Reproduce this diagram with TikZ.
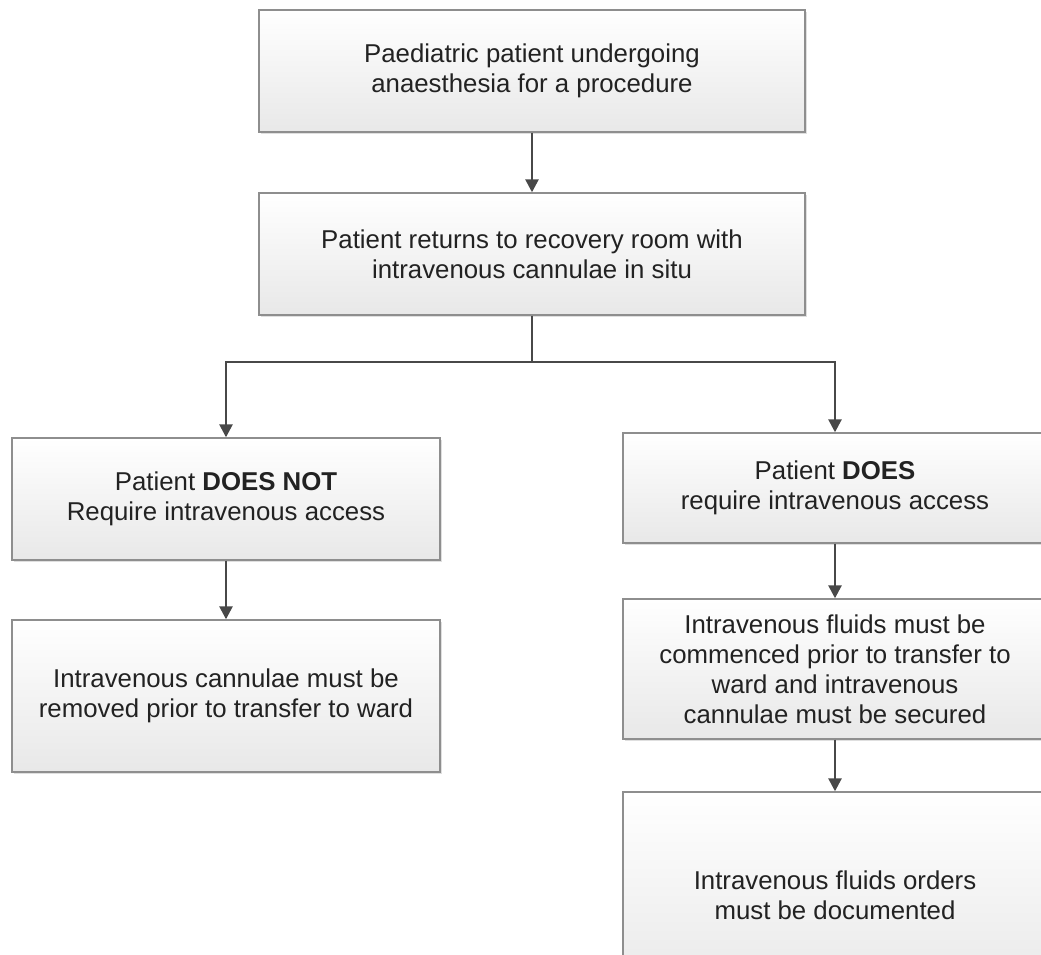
\documentclass[tikz,border=0pt]{standalone}
\usepackage{fontspec}
\setmainfont{Liberation Sans}
\usetikzlibrary{arrows.meta,shadows}
\definecolor{boxborder}{HTML}{8E8E8E}
\definecolor{boxbottom}{HTML}{E8E8E8}
\definecolor{linecol}{HTML}{484848}
\definecolor{txtcol}{HTML}{222222}
\begin{document}
\begin{tikzpicture}[x=1pt,y=-1pt,
  flowbox/.style={draw=boxborder, line width=1.4pt, top color=white, bottom color=boxbottom,
    align=center, text=txtcol, font=\fontsize{25.8}{30}\selectfont, inner sep=0pt,
    drop shadow={shadow xshift=2pt, shadow yshift=-2pt, opacity=0.25, fill=gray}},
  conn/.style={draw=linecol, line width=2.6pt},
  arr/.style={conn, -{Triangle[width=13pt,length=13pt]}}]
\useasboundingbox (0,0) rectangle (1041,954);
\clip (0,0) rectangle (1041,954);
\node[flowbox, minimum width=546pt, minimum height=122pt] (a) at (532,71)
  {Paediatric patient undergoing\\anaesthesia for a procedure};
\node[flowbox, minimum width=546pt, minimum height=122pt] (b) at (532,254)
  {Patient returns to recovery room with\\intravenous cannulae in situ};
\node[flowbox, minimum width=428pt, minimum height=122pt] (c) at (226,499)
  {Patient \textbf{DOES NOT}\\Require intravenous access};
\node[flowbox, minimum width=428pt, minimum height=152pt] (d) at (226,696)
  {Intravenous cannulae must be\\removed prior to transfer to ward};
\node[flowbox, minimum width=424pt, minimum height=110pt] (e) at (835,488)
  {Patient \textbf{DOES}\\require intravenous access};
\node[flowbox, minimum width=424pt, minimum height=140pt] (f) at (835,669)
  {Intravenous fluids must be\\commenced prior to transfer to\\ward and intravenous\\cannulae must be secured};
\node[flowbox, minimum width=424pt, minimum height=206pt] (g) at (835,895)
  {Intravenous fluids orders\\must be documented};
\coordinate (j) at (532,362);
\draw[arr] (a) -- (b);
\draw[conn] (b.south) -- (j);
\draw[arr] (j) -| (c.north);
\draw[arr] (j) -| (e.north);
\draw[arr] (c) -- (d);
\draw[arr] (e) -- (f);
\draw[arr] (f) -- (g);
\end{tikzpicture}
\end{document}
